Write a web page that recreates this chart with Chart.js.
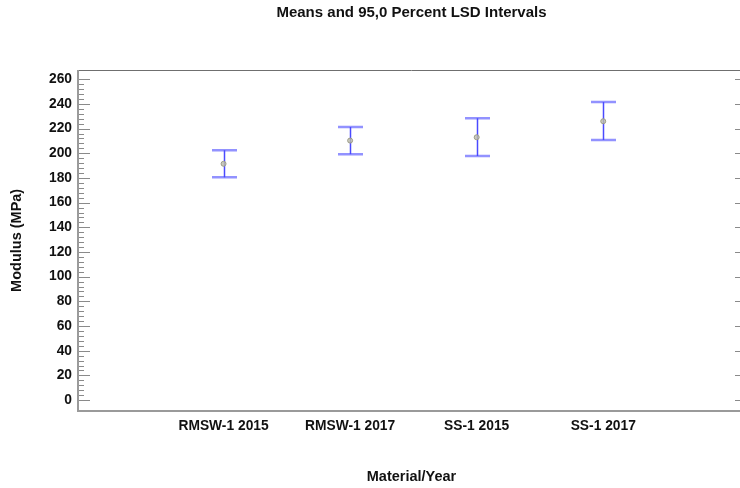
<!DOCTYPE html>
<html>
<head>
<meta charset="utf-8">
<script src="https://cdn.jsdelivr.net/npm/chart.js@4/dist/chart.umd.min.js"></script>
<style>
  html, body { margin: 0; padding: 0; background: #fff; overflow: hidden; }
  #wrap { width: 752px; height: 488px; }
</style>
</head>
<body>
<div id="wrap"><canvas id="c" width="752" height="488"></canvas></div>
<script>
// Group means with their 95% LSD interval limits (MPa)
const categories = ['RMSW-1 2015', 'RMSW-1 2017', 'SS-1 2015', 'SS-1 2017'];
const means = [191.5, 210.3, 213.0, 226.0];
const lowerLimits = [180.5, 199.3, 197.8, 210.8];
const upperLimits = [202.5, 221.3, 228.4, 241.5];
const yTickValues = [0, 20, 40, 60, 80, 100, 120, 140, 160, 180, 200, 220, 240, 260];
const yMinorStep = 4;

const FONT = 'Arial, "Liberation Sans", Helvetica, sans-serif';
const TEXT = '#111111';

// Frame plus inward tick marks (minor ticks on the left edge only)
const framePlugin = {
  id: 'frame',
  beforeDatasetsDraw(chart) {
    const { ctx, chartArea: a, scales: { y } } = chart;
    ctx.save();
    ctx.strokeStyle = '#8a8a8a';
    ctx.lineWidth = 1;
    for (let v = 0; v <= 260; v += yMinorStep) {
      const py = Math.round(y.getPixelForValue(v)) + 0.5;
      const major = v % 20 === 0;
      ctx.beginPath();
      ctx.moveTo(a.left, py); ctx.lineTo(a.left + (major ? 12 : 6), py);
      if (major) { ctx.moveTo(a.right, py); ctx.lineTo(a.right - 10, py); }
      ctx.stroke();
    }
    // top and right edges
    ctx.strokeStyle = '#6f6f6f';
    ctx.lineWidth = 1;
    ctx.beginPath();
    ctx.moveTo(a.left, Math.round(a.top) + 0.5);
    ctx.lineTo(a.right, Math.round(a.top) + 0.5);
    ctx.moveTo(Math.round(a.right) + 0.5, a.top);
    ctx.lineTo(Math.round(a.right) + 0.5, a.bottom);
    ctx.stroke();
    // left and bottom edges
    ctx.strokeStyle = '#9a9a9a';
    ctx.lineWidth = 2;
    ctx.beginPath();
    ctx.moveTo(Math.round(a.left), a.top);
    ctx.lineTo(Math.round(a.left), Math.round(a.bottom));
    ctx.lineTo(a.right, Math.round(a.bottom));
    ctx.stroke();
    ctx.restore();
  }
};

// LSD interval bars drawn from the limit arrays
const intervalPlugin = {
  id: 'intervals',
  beforeDatasetsDraw(chart) {
    const { ctx, scales: { x, y } } = chart;
    ctx.save();
    categories.forEach((c, i) => {
      const px = Math.round(x.getPixelForValue(i + 1)) + 0.5;
      const top = y.getPixelForValue(upperLimits[i]);
      const bot = y.getPixelForValue(lowerLimits[i]);
      const half = 12.5;
      ctx.strokeStyle = 'rgba(110,110,255,0.75)';
      ctx.lineWidth = 2.5;
      ctx.beginPath();
      ctx.moveTo(px - half, top); ctx.lineTo(px + half, top);
      ctx.moveTo(px - half, bot); ctx.lineTo(px + half, bot);
      ctx.stroke();
      ctx.strokeStyle = '#4a4aff';
      ctx.lineWidth = 1.5;
      ctx.beginPath();
      ctx.moveTo(px, top); ctx.lineTo(px, bot);
      ctx.stroke();
    });
    ctx.restore();
  }
};

new Chart(document.getElementById('c'), {
  type: 'scatter',
  data: {
    datasets: [{
      data: means.map((m, i) => ({ x: i + 1, y: m })),
      pointStyle: 'circle',
      pointRadius: 2.5,
      borderWidth: 1,
      borderColor: '#9c9c88',
      backgroundColor: 'rgba(190,190,170,0.8)'
    }]
  },
  options: {
    responsive: false,
    animation: false,
    devicePixelRatio: 1,
    layout: { padding: { left: 0, right: 7, top: 0, bottom: 0 } },
    plugins: {
      legend: { display: false },
      tooltip: { enabled: false },
      title: {
        display: true,
        fullSize: false,
        text: 'Means and 95,0 Percent LSD Intervals',
        color: TEXT,
        font: { family: FONT, size: 15, weight: 'bold', lineHeight: 1.2 },
        padding: { top: 4, bottom: 48 }
      }
    },
    scales: {
      x: {
        type: 'linear',
        position: 'bottom',
        min: -0.15,
        max: 5.12,
        grid: { display: false, drawTicks: false },
        border: { display: false },
        afterBuildTicks: s => { s.ticks = categories.map((c, i) => ({ value: i + 1 })); },
        afterFit: s => { s.height = 77.3; },
        ticks: {
          autoSkip: false,
          maxRotation: 0,
          padding: 7,
          color: TEXT,
          font: { family: FONT, size: 13.8, weight: 'bold' },
          callback: v => categories[v - 1] || ''
        },
        title: {
          display: true,
          text: 'Material/Year',
          color: TEXT,
          font: { family: FONT, size: 14.5, weight: 'bold', lineHeight: 1.2 },
          padding: { top: 0, bottom: 2.3 }
        }
      },
      y: {
        type: 'linear',
        min: -8.6,
        max: 267.5,
        grid: { display: false, drawTicks: false },
        border: { display: false },
        afterBuildTicks: s => { s.ticks = yTickValues.map(v => ({ value: v })); },
        afterFit: s => { s.width = 78; },
        ticks: {
          padding: 6,
          color: TEXT,
          font: { family: FONT, size: 13.8, weight: 'bold' }
        },
        title: {
          display: true,
          text: 'Modulus (MPa)',
          color: TEXT,
          font: { family: FONT, size: 14.5, weight: 'bold', lineHeight: 1.2 },
          padding: { top: 8, bottom: 0 }
        }
      }
    }
  },
  plugins: [framePlugin, intervalPlugin]
});
</script>
</body>
</html>
